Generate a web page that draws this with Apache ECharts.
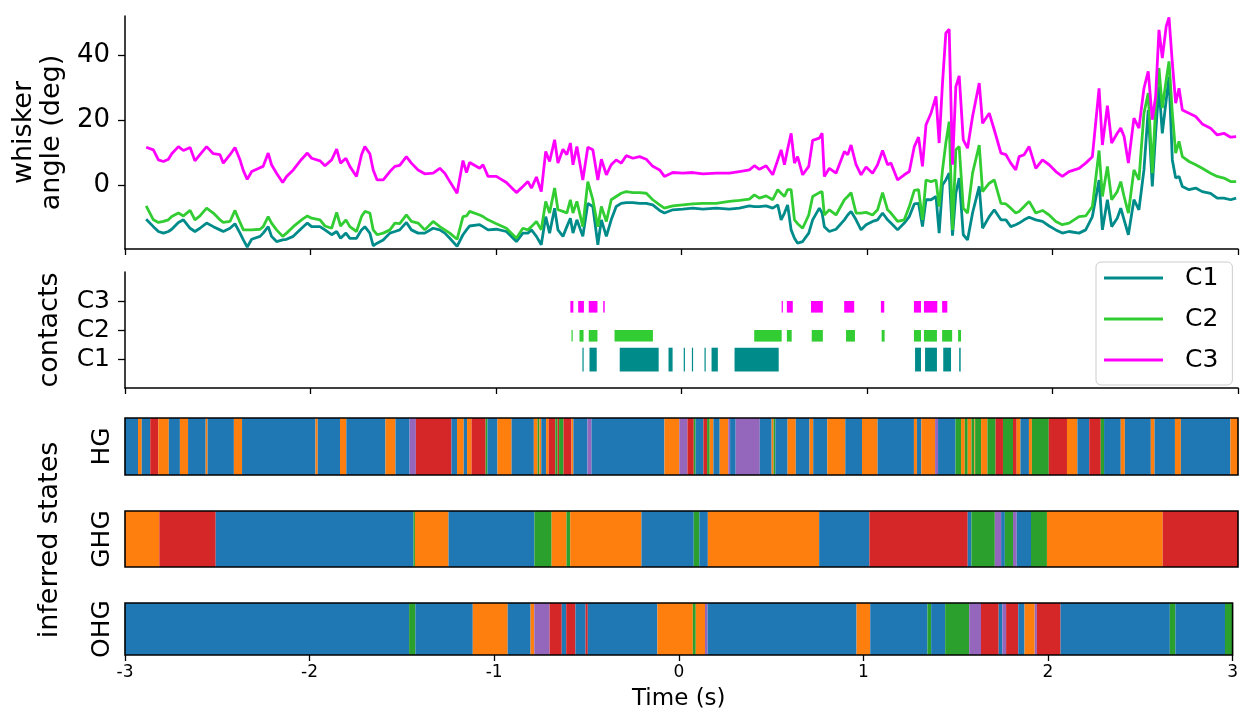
<!DOCTYPE html>
<html><head><meta charset="utf-8">
<script src="https://cdn.jsdelivr.net/npm/echarts@6/dist/echarts.min.js"></script>
<style>html,body{margin:0;padding:0;background:#fff}#c{width:1241px;height:712px}</style>
</head><body><div id="c"></div>
<script>
// ---- whisker angle traces (time in s, angle in deg) ----
const times = [
-2.886,-2.847,-2.820,-2.793,-2.766,-2.748,-2.712,-2.685,-2.649,-2.623,-2.596,-2.560,-2.524,-2.488,-2.470,-2.434,-2.407,-2.380,-2.362,-2.341,-2.317,-2.272,-2.255,-2.228,-2.210,-2.183,-2.150,-2.129,-2.093,-2.048,-2.017,-1.994,-1.949,-1.922,-1.886,-1.859,-1.838,-1.809,-1.788,-1.752,-1.725,-1.707,-1.680,-1.662,-1.641,-1.608,-1.572,-1.545,-1.519,-1.483,-1.456,-1.420,
-1.384,-1.339,-1.303,-1.276,-1.249,-1.210,-1.178,-1.159,-1.142,-1.088,-1.070,-1.043,-0.998,-0.944,-0.890,-0.855,-0.828,-0.809,-0.782,-0.756,-0.732,-0.711,-0.684,-0.666,-0.639,-0.618,-0.599,-0.585,-0.564,-0.532,-0.505,-0.478,-0.451,-0.432,-0.405,-0.379,-0.352,-0.325,-0.298,-0.262,-0.226,-0.190,-0.155,-0.118,-0.092,-0.047,0.007,0.061,0.115,0.187,0.258,0.312,0.366,0.393,0.420,0.456,0.492,0.519,0.537,0.555,0.572,0.591,0.609,0.626,0.653,0.686,0.707,0.743,
0.758,0.770,0.797,0.833,0.878,0.896,0.914,0.941,0.968,0.995,1.030,1.057,1.084,1.111,1.129,1.165,1.201,1.228,1.255,1.278,1.299,1.318,1.345,1.372,1.389,1.407,1.425,1.443,1.461,1.479,1.497,1.519,1.542,1.569,1.605,1.623,1.659,1.686,1.722,1.749,1.775,1.802,1.820,1.847,1.874,1.910,1.946,1.982,2.018,2.053,2.089,2.143,2.179,2.215,2.251,2.269,2.296,2.319,2.349,2.368,2.386,2.409,2.439,2.466,2.493,2.516,2.538,2.556,2.574,2.592,2.613,2.628,2.646,2.664,2.682,2.700,2.736,2.772,2.807,2.852,2.888,2.924,2.960,2.990];
const c1 = [
-10.6,-12.9,-14.4,-14.9,-14.4,-13.7,-11.6,-10.8,-13.4,-14.4,-13.4,-11.8,-12.9,-13.9,-14.4,-13.4,-12.0,-14.9,-17.0,-19.2,-16.8,-15.9,-14.9,-12.9,-15.9,-17.5,-17.0,-16.8,-15.9,-13.4,-11.8,-12.9,-12.9,-13.9,-15.4,-14.4,-16.5,-14.9,-16.5,-16.5,-13.9,-12.9,-14.9,-18.8,-18.0,-17.0,-14.9,-14.4,-13.9,-11.6,-13.9,-14.9,
-14.9,-13.4,-13.9,-14.9,-16.5,-19.0,-15.4,-13.9,-12.7,-12.3,-12.9,-13.9,-13.7,-14.4,-17.5,-14.9,-14.9,-13.9,-15.9,-18.5,-9.8,-14.9,-7.2,-13.9,-15.9,-12.9,-10.3,-14.9,-10.8,-15.9,-5.7,-6.7,-18.5,-10.8,-15.9,-10.8,-6.7,-5.7,-5.5,-5.5,-5.7,-5.7,-6.2,-7.9,-8.7,-7.7,-7.5,-7.2,-7.5,-7.2,-7.5,-7.2,-6.5,-6.7,-6.7,-6.5,-7.2,-6.2,-10.8,-8.7,-6.2,-13.9,-16.5,-18.0,-17.5,-14.9,-10.8,-7.2,
-8.7,-12.9,-14.4,-13.7,-10.8,-9.3,-8.2,-10.8,-13.9,-12.3,-11.3,-10.8,-8.7,-10.8,-11.8,-13.9,-11.8,-9.8,-5.9,-5.7,-12.9,-4.6,-4.6,-3.6,-14.9,0.0,1.5,3.6,-15.7,-2.6,2.1,-15.4,-17.0,-8.7,-0.5,-13.4,-9.8,-7.7,-10.8,-10.8,-12.9,-12.3,-11.8,-10.8,-10.0,-10.8,-11.3,-12.7,-13.9,-14.9,-14.4,-14.9,-13.9,-9.8,1.5,-13.9,-4.6,-12.9,-10.3,-7.2,-10.8,-15.4,-4.6,-7.7,4.6,23.1,-0.5,15.9,30.3,15.9,26.2,33.4,7.7,2.1,2.6,-0.5,-1.5,-1.0,-2.1,-2.6,-4.1,-4.1,-4.6,-4.1];
const c2 = [
-6.5,-10.8,-11.6,-11.3,-10.8,-9.8,-8.7,-9.6,-7.9,-10.8,-9.6,-7.2,-8.7,-10.8,-11.6,-11.3,-7.9,-11.6,-13.9,-13.9,-13.9,-13.7,-12.9,-9.8,-11.8,-13.9,-15.9,-14.9,-12.9,-10.8,-9.6,-10.3,-10.8,-12.7,-13.4,-8.5,-12.7,-10.8,-12.9,-14.4,-9.8,-8.2,-8.7,-13.9,-15.4,-14.9,-13.9,-11.8,-12.0,-9.3,-11.3,-11.8,
-13.9,-11.3,-12.9,-13.9,-14.9,-16.8,-9.8,-9.6,-8.2,-9.3,-9.8,-10.8,-12.0,-13.4,-16.5,-13.4,-13.9,-12.9,-11.3,-13.9,-5.1,-8.7,-1.0,-7.7,-8.2,-8.7,-4.6,-8.7,-5.1,-12.9,1.0,-4.6,-12.9,-6.7,-11.3,-4.6,-3.6,-2.6,-2.1,-2.4,-2.4,-2.6,-4.6,-6.2,-7.2,-6.5,-6.2,-5.9,-5.7,-5.7,-5.1,-4.8,-4.4,-3.1,-4.1,-3.4,-4.6,-1.5,-2.6,-3.6,-1.5,-1.5,-10.8,-12.0,-13.4,-9.3,-3.6,-2.4,
-2.1,-9.3,-7.7,-9.3,-4.6,-3.6,-2.4,-8.7,-8.7,-8.5,-9.3,-7.7,-2.4,-7.7,-8.7,-11.3,-10.8,-6.7,-1.7,-1.5,-10.8,1.5,1.0,1.5,-6.7,4.6,12.9,19.5,-13.9,10.8,11.8,-7.2,-8.7,3.6,12.3,-2.1,0.5,1.5,-5.7,-5.9,-7.2,-8.7,-8.2,-6.7,-5.1,-8.7,-7.9,-9.3,-11.3,-12.3,-11.8,-9.8,-9.6,-6.7,10.6,-3.6,5.7,-4.6,-2.1,1.0,-3.6,-8.7,4.6,1.5,22.1,28.3,3.6,24.1,36.0,23.7,32.4,38.1,22.1,9.8,13.4,8.7,7.2,6.2,5.1,3.6,2.6,2.1,1.0,1.0];
const c3 = [
11.6,10.8,7.7,7.2,7.9,9.6,11.8,10.6,11.5,7.4,9.3,11.8,9.6,9.3,6.7,9.3,11.5,7.7,4.4,1.7,4.1,5.3,5.7,9.8,6.2,3.6,0.7,2.6,4.6,7.9,9.8,8.2,7.4,5.9,7.7,11.0,6.7,8.2,5.7,2.6,9.3,11.8,9.6,4.6,1.5,1.5,4.1,5.7,6.0,8.7,6.7,4.6,
3.4,3.6,5.1,3.6,1.0,-2.6,7.5,3.8,6.9,5.1,6.2,2.6,2.6,0.7,-2.4,-0.5,1.0,-1.0,2.4,-2.1,10.3,7.2,13.9,6.7,11.0,9.3,12.9,6.2,11.8,1.5,11.6,10.8,1.5,7.9,3.1,6.2,7.7,6.7,9.0,8.2,8.7,7.9,5.7,4.6,2.6,3.8,3.6,3.8,3.4,3.6,3.6,4.1,4.6,5.9,4.8,5.9,3.1,7.7,10.8,6.2,11.0,15.9,6.7,8.7,3.1,5.7,13.7,14.4,
15.9,2.6,5.1,3.6,10.3,9.3,12.3,6.2,3.1,5.5,3.6,6.2,10.6,6.2,6.7,1.5,3.1,4.1,11.8,14.7,5.7,18.5,22.1,27.3,12.9,31.4,46.8,48.0,6.2,30.3,33.6,13.9,11.3,21.1,31.4,19.0,22.1,17.0,9.8,9.3,6.7,4.6,8.7,9.3,11.8,5.1,7.7,6.2,4.1,2.6,4.1,5.1,6.7,8.7,29.8,12.3,24.4,12.9,15.9,17.5,14.9,6.7,20.6,17.5,29.8,35.0,20.1,27.3,47.8,39.1,48.9,51.7,37.6,25.2,29.8,23.1,22.1,21.1,18.8,17.5,15.4,15.9,14.7,14.9];
const angleTicks = [0, 20, 40];

// ---- contacts: [start, end] in s ----
const contactLabels = ['C1', 'C2', 'C3'];
const c1Contacts = [[-0.534,-0.528],[-0.496,-0.457],[-0.333,-0.123],[-0.070,-0.048],[0.012,0.016],[0.056,0.062],[0.124,0.128],[0.162,0.196],[0.286,0.524],[1.259,1.291],[1.313,1.377],[1.411,1.453],[1.497,1.505]];
const c2Contacts = [[-0.593,-0.587],[-0.550,-0.528],[-0.500,-0.453],[-0.361,-0.154],[0.392,0.540],[0.568,0.594],[0.702,0.762],[0.887,0.935],[1.079,1.095],[1.253,1.291],[1.307,1.377],[1.405,1.459],[1.491,1.507]];
const c3Contacts = [[-0.599,-0.583],[-0.557,-0.526],[-0.500,-0.453],[-0.422,-0.414],[0.540,0.544],[0.568,0.600],[0.698,0.762],[0.877,0.931],[1.075,1.093],[1.253,1.291],[1.307,1.379],[1.405,1.433]];

// ---- inferred states: [segment start (s), state] ----
const hgSegments = [[-3.00,'B'],[-2.93,'O'],[-2.91,'B'],[-2.864,'R'],[-2.82,'O'],[-2.764,'B'],[-2.704,'O'],[-2.66,'B'],[-2.565,'O'],[-2.555,'B'],[-2.413,'O'],[-2.369,'B'],[-1.973,'O'],[-1.961,'B'],[-1.841,'O'],[-1.807,'B'],[-1.596,'O'],[-1.542,'B'],[-1.466,'P'],[-1.432,'R'],[-1.24,'B'],[-1.21,'O'],[-1.174,'B'],[-1.156,'O'],[-1.132,'R'],[-1.056,'G'],[-1.046,'B'],[-0.992,'O'],[-0.916,'B'],[-0.796,'O'],[-0.776,'G'],[-0.766,'O'],[-0.756,'B'],[-0.73,'O'],[-0.716,'R'],[-0.68,'G'],[-0.668,'R'],[-0.66,'G'],[-0.636,'R'],[-0.593,'O'],[-0.583,'B'],[-0.507,'P'],[-0.485,'B'],[-0.092,'O'],[-0.012,'P'],[0.032,'R'],[0.066,'G'],[0.076,'B'],[0.118,'R'],[0.138,'G'],[0.152,'O'],[0.172,'B'],[0.206,'O'],[0.252,'P'],[0.262,'B'],[0.292,'P'],[0.422,'B'],[0.486,'O'],[0.496,'G'],[0.506,'B'],[0.572,'O'],[0.616,'B'],[0.69,'O'],[0.71,'B'],[0.786,'O'],[0.883,'B'],[0.973,'O'],[1.057,'B'],[1.253,'O'],[1.269,'B'],[1.293,'O'],[1.367,'P'],[1.383,'B'],[1.477,'G'],[1.507,'O'],[1.527,'G'],[1.543,'O'],[1.563,'G'],[1.579,'O'],[1.583,'G'],[1.615,'O'],[1.649,'G'],[1.693,'R'],[1.733,'G'],[1.787,'R'],[1.807,'O'],[1.827,'B'],[1.873,'O'],[1.889,'G'],[1.98,'R'],[2.078,'O'],[2.134,'B'],[2.198,'R'],[2.26,'G'],[2.278,'B'],[2.368,'O'],[2.39,'B'],[2.53,'O'],[2.55,'B'],[2.66,'O'],[2.692,'B'],[2.959,'O']];
const ghgSegments = [[-3.0,'O'],[-2.815,'R'],[-2.511,'B'],[-1.445,'G'],[-1.437,'O'],[-1.256,'B'],[-0.793,'G'],[-0.70,'O'],[-0.62,'G'],[-0.60,'O'],[-0.216,'B'],[0.066,'G'],[0.096,'B'],[0.142,'O'],[0.742,'B'],[1.013,'R'],[1.543,'B'],[1.563,'G'],[1.689,'P'],[1.723,'B'],[1.743,'G'],[1.787,'P'],[1.807,'B'],[1.884,'G'],[1.970,'O'],[2.594,'R']];
const ohgSegments = [[-3.0,'B'],[-1.461,'G'],[-1.427,'B'],[-1.116,'O'],[-0.927,'B'],[-0.803,'O'],[-0.783,'P'],[-0.70,'R'],[-0.634,'B'],[-0.61,'R'],[-0.56,'B'],[-0.505,'R'],[-0.493,'B'],[-0.116,'O'],[0.076,'G'],[0.092,'O'],[0.142,'P'],[0.156,'B'],[0.963,'O'],[1.037,'B'],[1.347,'G'],[1.367,'B'],[1.443,'G'],[1.573,'P'],[1.637,'R'],[1.733,'B'],[1.753,'P'],[1.773,'R'],[1.839,'B'],[1.873,'O'],[1.928,'P'],[1.94,'R'],[2.068,'B'],[2.66,'G'],[2.69,'B'],[2.959,'G']];
const stateNames = ['HG', 'GHG', 'OHG'];
const tMin = -3, tMax = 3;

// ---- styling ----
const FONT = 'DejaVu Sans';
const lineColors = {C1: '#008b8b', C2: '#32cd32', C3: '#ff00ff'};
const stateColors = {B: '#1f77b4', O: '#ff7f0e', G: '#2ca02c', R: '#d62728', P: '#9467bd'};

const chart = echarts.init(document.getElementById('c'), null, {renderer: 'canvas'});

const grids = [
  {left: 125, right: 3, top: 16, height: 233},
  {left: 125, right: 3, top: 272, height: 116},
  {left: 125, right: 3, top: 418, height: 57},
  {left: 125, right: 3, top: 511, height: 56},
  {left: 125, right: 3, top: 603, height: 56}
];

function xAxisFor(i) {
  const base = {type: 'value', gridIndex: i, min: tMin, max: tMax, interval: 1,
    splitLine: {show: false},
    axisLine: {show: i < 2, onZero: false, lineStyle: {color: '#000', width: 1.5}},
    axisTick: {show: i < 2 || i === 4, length: 6, lineStyle: {color: '#000', width: 1.3}},
    axisLabel: {show: false}};
  if (i === 4) {
    base.axisLabel = {show: true, fontSize: 17, color: '#000', fontFamily: FONT, margin: 9};
    base.name = 'Time (s)';
    base.nameLocation = 'middle';
    base.nameGap = 33;
    base.nameTextStyle = {fontSize: 23, color: '#000', fontFamily: FONT};
  }
  return base;
}

const yAxes = [
  {type: 'value', gridIndex: 0, min: -19.8, max: 52.1,
    splitLine: {show: false},
    axisLine: {show: true, onZero: false, lineStyle: {color: '#000', width: 1.5}},
    axisTick: {show: true, length: 7, customValues: angleTicks, lineStyle: {color: '#000', width: 1.3}},
    axisLabel: {show: true, customValues: angleTicks, fontSize: 26, color: '#000', fontFamily: FONT, margin: 15},
    name: 'whisker\nangle (deg)', nameLocation: 'middle', nameRotate: 90, nameGap: 56,
    nameTextStyle: {fontSize: 27, color: '#000', fontFamily: FONT, lineHeight: 28}},
  {type: 'value', gridIndex: 1, min: 0, max: 4,
    splitLine: {show: false},
    axisLine: {show: true, onZero: false, lineStyle: {color: '#000', width: 1.5}},
    axisTick: {show: true, length: 7, customValues: [1, 2, 3], lineStyle: {color: '#000', width: 1.3}},
    axisLabel: {show: true, customValues: [1, 2, 3], formatter: v => contactLabels[v - 1], fontSize: 25, color: '#000', fontFamily: FONT, margin: 15},
    name: 'contacts', nameLocation: 'middle', nameRotate: 90, nameGap: 62,
    nameTextStyle: {fontSize: 27, color: '#000', fontFamily: FONT}}
];
stateNames.forEach((nm, k) => {
  yAxes.push({type: 'value', gridIndex: 2 + k, min: 0, max: 1,
    splitLine: {show: false}, axisLine: {show: false, onZero: false}, axisTick: {show: false}, axisLabel: {show: false},
    name: nm, nameLocation: 'middle', nameRotate: 90, nameGap: 10,
    nameTextStyle: {fontSize: 25, color: '#000', fontFamily: FONT}});
});

const series = [];
['C1', 'C2', 'C3'].forEach((nm, k) => {
  const vals = [c1, c2, c3][k];
  series.push({name: nm, type: 'line', xAxisIndex: 0, yAxisIndex: 0, symbol: 'none',
    data: times.map((t, i) => [t, vals[i]]),
    lineStyle: {color: lineColors[nm], width: 2.8}, itemStyle: {color: lineColors[nm]},
    clip: true, animation: false, silent: true, z: 2 + k});
});

function contactSeries(intervals, color, lo, hi) {
  return {type: 'custom', xAxisIndex: 1, yAxisIndex: 1, silent: true, animation: false,
    data: intervals, encode: {x: [0, 1]},
    renderItem: (params, api) => {
      const a = api.coord([api.value(0), hi]);
      const b = api.coord([api.value(1), lo]);
      return {type: 'rect', shape: {x: a[0], y: a[1], width: Math.max(b[0] - a[0], 1.2), height: b[1] - a[1]},
        style: {fill: color}};
    }};
}
series.push(contactSeries(c1Contacts, lineColors.C1, 0.57, 1.39));
series.push(contactSeries(c2Contacts, lineColors.C2, 1.6, 2.0));
series.push(contactSeries(c3Contacts, lineColors.C3, 2.6, 3.0));

function stateSeries(idx, segs) {
  const data = segs.map((s, i) => [s[0], i + 1 < segs.length ? segs[i + 1][0] : tMax, s[1]]);
  return {type: 'custom', xAxisIndex: idx, yAxisIndex: idx, silent: true, animation: false,
    data: data, encode: {x: [0, 1]}, dimensions: ['start', 'end', {name: 'state', type: 'ordinal'}],
    renderItem: (params, api) => {
      const d = data[params.dataIndex];
      const a = api.coord([d[0], 1]);
      const b = api.coord([d[1], 0]);
      return {type: 'rect', shape: {x: a[0], y: a[1], width: Math.max(b[0] - a[0], 1), height: b[1] - a[1]},
        style: {fill: stateColors[d[2]]}};
    }};
}
function frameSeries(idx) {
  return {type: 'custom', xAxisIndex: idx, yAxisIndex: idx, silent: true, animation: false, z: 10,
    data: [[0, 0.5]],
    renderItem: (params) => {
      const c = params.coordSys;
      return {type: 'rect', shape: {x: c.x, y: c.y, width: c.width, height: c.height},
        style: {fill: 'none', stroke: '#000', lineWidth: 1.6}};
    }};
}
[hgSegments, ghgSegments, ohgSegments].forEach((segs, k) => {
  series.push(stateSeries(2 + k, segs));
  series.push(frameSeries(2 + k));
});

chart.setOption({
  animation: false,
  backgroundColor: '#fff',
  textStyle: {fontFamily: FONT},
  grid: grids,
  xAxis: [0, 1, 2, 3, 4].map(xAxisFor),
  yAxis: yAxes,
  legend: {
    data: ['C1', 'C2', 'C3'], orient: 'vertical', left: 1096, top: 262,
    icon: 'rect', itemWidth: 59, itemHeight: 3, itemGap: 15,
    textStyle: {fontSize: 25, color: '#000', fontFamily: FONT, padding: [0, 0, 0, 17], lineHeight: 26},
    padding: [3, 14, 12, 8], borderColor: '#cccccc', borderWidth: 1, borderRadius: 5,
    backgroundColor: 'rgba(255,255,255,0.8)', selectedMode: false
  },
  graphic: [{type: 'text', silent: true,
    x: 50, y: 540, rotation: Math.PI / 2,
    style: {text: 'inferred states', fontSize: 27, fontFamily: FONT, fill: '#000', textAlign: 'center', textVerticalAlign: 'middle'}}],
  series: series
});
</script>
</body></html>
